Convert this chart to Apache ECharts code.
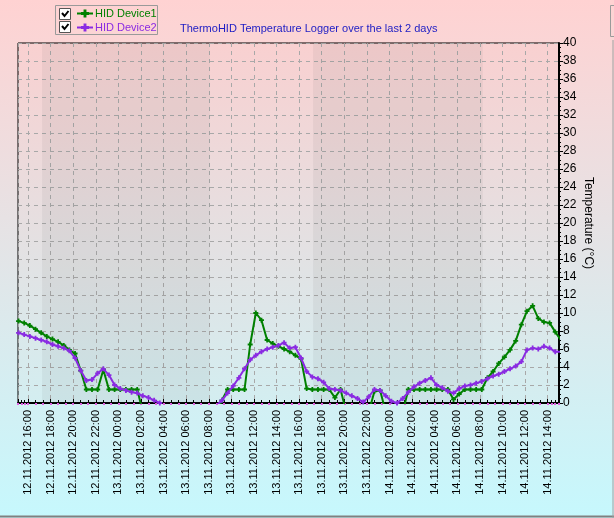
<!DOCTYPE html>
<html>
<head>
<meta charset="utf-8">
<script src="https://cdn.jsdelivr.net/npm/echarts@6/dist/echarts.min.js"></script>
<style>html,body{margin:0;padding:0;}#c{width:614px;height:518px;}</style>
</head>
<body>
<div id="c"></div>
<script>
// ---- data ----
var seriesNames = ['HID Device1', 'HID Device2'];
var sampleStart = [2012, 10, 12, 15, 10]; // first reading (local time)
var sampleStepMinutes = 30;
var axisStart = [2012, 10, 12, 15, 7];
var axisEnd = [2012, 10, 14, 15, 0];
var nightStart = [[2012, 10, 12, 17, 15], [2012, 10, 13, 17, 14]];
var nightEnd = [[2012, 10, 13, 8, 6], [2012, 10, 14, 8, 15]];
var yTicks = [0, 40, 2];
var device1Values = [
  9.1, 8.9, 8.6, 8.2, 7.8, 7.4, 7.1, 6.8, 6.4, 5.9,
  5.5, 3.6, 1.5, 1.5, 1.5, 3.7, 1.5, 1.5, 1.5, 1.5,
  1.5, 1.5, -1, -1, -1, -1, -1, -1, -1, -1,
  -1, -1, -1, -1, -1, -1, 0.3, 1.5, 1.5, 1.5,
  1.5, 6.5, 10.0, 9.2, 7.0, 6.6, 6.3, 6.0, 5.7, 5.3,
  4.9, 1.6, 1.5, 1.5, 1.5, 1.5, 0.6, 1.5, -1, -1,
  -1, -1, -1, 1.3, 1.4, -1, -1, -1, -1, 1.5,
  1.5, 1.5, 1.5, 1.5, 1.5, 1.5, 1.5, 0.4, 1.0, 1.5,
  1.5, 1.5, 1.5, 2.8, 3.5, 4.4, 5.1, 5.9, 6.9, 8.7,
  10.2, 10.8, 9.4, 9.0, 8.9, 7.9, 7.0
];
var device2Values = [
  7.8, 7.6, 7.4, 7.2, 7.0, 6.8, 6.5, 6.3, 6.1, 5.8,
  5.0, 3.6, 2.5, 2.6, 3.3, 3.8, 3.1, 2.0, 1.6, 1.4,
  1.2, 1.1, 0.8, 0.6, 0.3, 0.0, -1, -1, -1, -1,
  -1, -1, -1, -1, -1, -0.3, 0.3, 1.1, 1.9, 2.8,
  3.8, 4.8, 5.3, 5.7, 6.0, 6.2, 6.4, 6.7, 6.1, 6.2,
  5.0, 3.5, 2.9, 2.7, 2.3, 1.6, 1.5, 1.4, 1.1, 0.8,
  0.5, 0.1, 0.7, 1.5, 1.4, 0.8, 0.2, 0.0, 0.5, 1.2,
  1.8, 2.2, 2.5, 2.8, 2.0, 1.7, 1.3, 1.1, 1.6, 1.9,
  2.0, 2.2, 2.4, 2.7, 3.0, 3.2, 3.5, 3.8, 4.1, 4.6,
  5.9, 6.1, 6.0, 6.3, 6.1, 5.7, 5.7
];

// ---- build ----
function d(a) { return new Date(a[0], a[1], a[2], a[3], a[4]).getTime(); }
var t0 = d(sampleStart);
var times = device1Values.map(function (_, i) { return t0 + i * sampleStepMinutes * 60000; });
function pairs(vals) { return vals.map(function (v, i) { return [times[i], v]; }); }
function pad(n) { return (n < 10 ? '0' : '') + n; }
function fmt(v) {
  var t = new Date(v);
  return pad(t.getDate()) + '.' + pad(t.getMonth() + 1) + '.' + t.getFullYear() + ' ' + pad(t.getHours()) + ':' + pad(t.getMinutes());
}
// approximate interval handed to the time scale; it snaps to 2-hour ticks
var APPROX = 3 * 3600 * 1000;
var FONT = 'Liberation Sans, Arial, sans-serif';
var cross = 'path://M0,1.6H5V3.4H0Z M1.6,0H3.4V5H1.6Z';

var chart = echarts.init(document.getElementById('c'), null, { renderer: 'canvas' });
var option = {
  animation: false,
  backgroundColor: { type: 'linear', x: 0, y: 0, x2: 0, y2: 1,
    colorStops: [{ offset: 0, color: '#FFD2D2' }, { offset: 1, color: '#C6F8FD' }] },
  title: {
    text: 'ThermoHID Temperature Logger over the last 2 days',
    left: 180, top: 23, padding: 0,
    textStyle: { fontFamily: FONT, fontSize: 11, fontWeight: 'normal', color: '#1c1cc4' }
  },
  legend: {
    orient: 'vertical', left: 76, top: 8, padding: 0, itemGap: 3,
    itemWidth: 16, itemHeight: 10, selectedMode: false,
    textStyle: { fontFamily: FONT, fontSize: 11, padding: [0, 0, 0, -3] },
    data: [
      { name: seriesNames[0], textStyle: { color: '#008000' } },
      { name: seriesNames[1], textStyle: { color: '#8A2BE2' } }
    ]
  },
  grid: {
    left: 18, right: 55, top: 43, bottom: 115, show: true,
    borderColor: '#000', borderWidth: 1,
    backgroundColor: { type: 'linear', x: 0, y: 0, x2: 0, y2: 1,
      colorStops: [{ offset: 0, color: '#F9D0D0' }, { offset: 1, color: '#D3EEF1' }] }
  },
  xAxis: [{
    type: 'time', min: d(axisStart), max: d(axisEnd),
    minInterval: APPROX, maxInterval: APPROX,
    axisLine: { show: true, lineStyle: { color: '#000', width: 2 } },
    axisTick: { show: true, inside: true, length: 4, lineStyle: { color: '#000' } },
    minorTick: { show: true, splitNumber: 3, length: 3, lineStyle: { color: '#000' } },
    splitLine: { show: true, lineStyle: { color: '#A8A8A8', type: [4, 4], width: 1 } },
    axisLabel: { rotate: 90, margin: 7, fontFamily: FONT, fontSize: 11, fontWeight: 'normal', color: '#000',
      hideOverlap: false, showMinLabel: false, showMaxLabel: false, formatter: function (v) { return fmt(v); } }
  }, {
    type: 'time', min: d(axisStart), max: d(axisEnd), position: 'bottom',
    minInterval: APPROX, maxInterval: APPROX,
    axisLine: { show: false }, axisLabel: { show: false }, splitLine: { show: false },
    axisTick: { show: true, length: 2, lineStyle: { color: '#E060E0', width: 2 } },
    minorTick: { show: true, splitNumber: 3, length: 2, lineStyle: { color: '#E060E0', width: 2 } }
  }],
  yAxis: {
    type: 'value', position: 'right', min: yTicks[0], max: yTicks[1], interval: yTicks[2],
    name: 'Temperature (°C)', nameLocation: 'middle', nameRotate: -90, nameGap: 23, nameMoveOverlap: false,
    nameTextStyle: { fontFamily: FONT, fontSize: 12, color: '#000' },
    axisLine: { show: true, lineStyle: { color: '#000', width: 2 } },
    axisTick: { show: true, length: 4, lineStyle: { color: '#000' } },
    minorTick: { show: true, splitNumber: 4, length: 2, lineStyle: { color: '#000' } },
    splitLine: { show: true, lineStyle: { color: '#A8A8A8', type: [4, 4], width: 1 } },
    axisLabel: { margin: 4, fontFamily: FONT, fontSize: 12, color: '#000' }
  },
  series: [
    {
      type: 'line', name: 'night', data: [], silent: true, z: 1,
      markArea: {
        silent: true,
        itemStyle: { color: 'rgba(80,80,80,0.07)' },
        data: nightStart.map(function (s, i) { return [{ xAxis: d(s) }, { xAxis: d(nightEnd[i]) }]; })
      }
    },
    {
      type: 'line', name: seriesNames[0], data: pairs(device1Values), z: 3,
      symbol: cross, symbolSize: 5, showAllSymbol: true,
      lineStyle: { color: '#008000', width: 2 }, itemStyle: { color: '#008000' }
    },
    {
      type: 'line', name: seriesNames[1], data: pairs(device2Values), z: 4,
      symbol: cross, symbolSize: 5, showAllSymbol: true,
      lineStyle: { color: '#8A2BE2', width: 2 }, itemStyle: { color: '#8A2BE2' }
    }
  ],
  graphic: [
    { type: 'rect', shape: { x: 55.5, y: 5.5, width: 102, height: 29 }, style: { fill: 'none', stroke: '#9A9A9A', lineWidth: 1 } },
    { type: 'rect', shape: { x: 59.5, y: 8.5, width: 11, height: 11 }, style: { fill: '#fff', stroke: '#555', lineWidth: 1 } },
    { type: 'rect', shape: { x: 59.5, y: 21.5, width: 11, height: 11 }, style: { fill: '#fff', stroke: '#555', lineWidth: 1 } },
    { type: 'polyline', shape: { points: [[62, 13], [64.5, 16], [68.5, 11]] }, style: { stroke: '#000', lineWidth: 2, fill: 'none' } },
    { type: 'polyline', shape: { points: [[62, 26], [64.5, 29], [68.5, 24]] }, style: { stroke: '#000', lineWidth: 2, fill: 'none' } },
    { type: 'rect', shape: { x: 610.5, y: 5.5, width: 6, height: 31 }, style: { fill: 'none', stroke: '#9A9A9A', lineWidth: 1 } },
    { type: 'line', shape: { x1: 0, y1: 516.5, x2: 614, y2: 516.5 }, style: { stroke: '#808080', lineWidth: 2 } },
    { type: 'line', shape: { x1: 613, y1: 40, x2: 613, y2: 518 }, style: { stroke: '#A0A0A0', lineWidth: 1 } }
  ]
};
chart.setOption(option);
</script>
</body>
</html>
